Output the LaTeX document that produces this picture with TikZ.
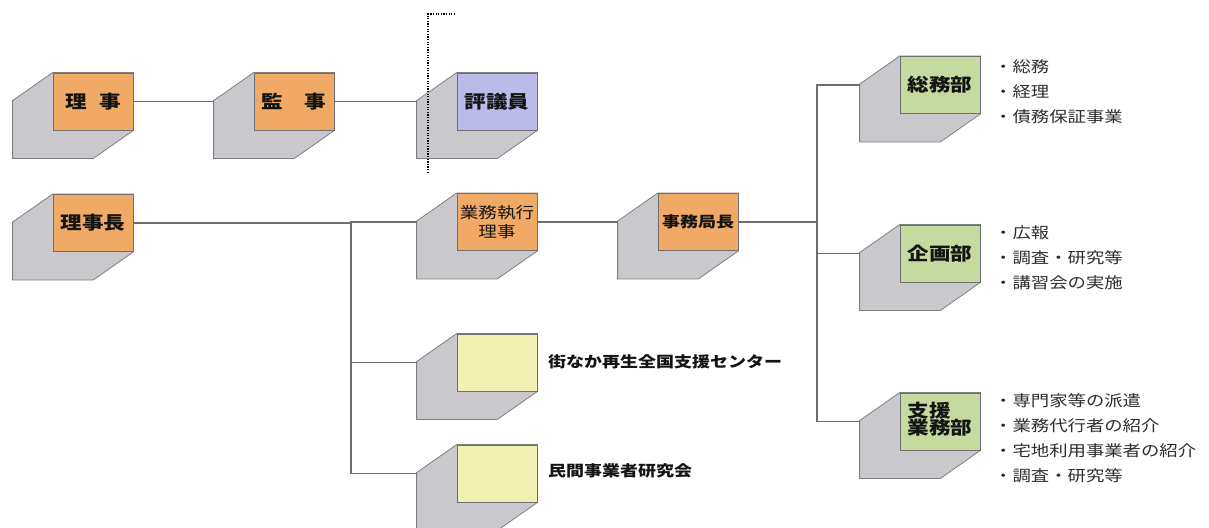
\documentclass[tikz,border=0pt]{standalone}
\usepackage{fontspec}
\setmainfont{Noto Sans CJK JP}[FakeStretch=1.2]
\usetikzlibrary{positioning}
\pgfdeclarelayer{background}
\pgfdeclarelayer{canvas}
\pgfsetlayers{canvas,background,main}
\definecolor{orangef}{HTML}{F0AA66}
\definecolor{purplef}{HTML}{BBBBEA}
\definecolor{greenf}{HTML}{C4DA9E}
\definecolor{yellowf}{HTML}{F2EFB2}
\definecolor{cubegray}{HTML}{C9C9CD}
\definecolor{cubeline}{HTML}{7F7F7F}
\definecolor{frontline}{HTML}{6F6F6F}
\definecolor{connline}{HTML}{6E6E6E}
\definecolor{txt}{HTML}{141414}
\definecolor{bul}{HTML}{2E2E2E}
\tikzset{
  front/.style={draw=frontline, line width=0.8pt, minimum width=80pt, minimum height=57pt,
    inner sep=1pt, align=center, font=\bfseries\fontsize{18}{19}\selectfont, text=txt},
  back/.style={fill=cubegray, draw=cubeline, line width=0.8pt},
  conn/.style={draw=connline, line width=1.1pt},
  bulletlist/.style={anchor=west, font=\fontsize{15.3}{25}\selectfont, align=left, text=bul, inner sep=0pt},
  side/.style={anchor=west, font=\bfseries\fontsize{15}{18}\selectfont, text=txt, inner sep=0pt},
  dotline/.style={draw=black, line width=1.3pt, dash pattern=on 1.3pt off 1.3pt},
}
\newcommand\mkcube[4]{%
  \node[front, fill=#3] (#1) at (#2) {#4};
  \begin{pgfonlayer}{background}
    \path[back] (#1.north west) -- ([shift={(-40,28)}]#1.north west)
      -- ([shift={(-40,28)}]#1.south west) -- ([shift={(-40,28)}]#1.south east)
      -- (#1.south east) -- (#1.north east) -- cycle;
  \end{pgfonlayer}
  \coordinate (#1-in) at ([xshift=-40pt]#1.west);
}
\begin{document}
\begin{tikzpicture}[x=1pt,y=-1pt]
\useasboundingbox (0,0) rectangle (1209,527);
\begin{pgfonlayer}{canvas}
\fill[white] (0,0) rectangle (1209,527);
\end{pgfonlayer}

\mkcube{rj}{93,101.5}{orangef}{理\hspace{0.7em}事}
\mkcube{kj}{294,101.5}{orangef}{監　事}
\mkcube{hg}{497,101.5}{purplef}{評議員}
\mkcube{rjc}{93,223}{orangef}{理事長}
\mkcube{gs}{497,222}{orangef}{\mdseries\fontsize{15.5}{19}\selectfont 業務執行\\\mdseries\fontsize{15.5}{19}\selectfont 理事}
\mkcube{jk}{698,222}{orangef}{\fontsize{15}{18}\selectfont 事務局長}
\mkcube{mn}{497,362.5}{yellowf}{}
\mkcube{mk}{497,473.5}{yellowf}{}
\mkcube{sm}{940,85}{greenf}{総務部}
\mkcube{kk}{940,253.5}{greenf}{企画部}
\mkcube{sg}{940,421.5}{greenf}{\begin{tabular}{@{}l@{}}\fontsize{18}{18}\selectfont 支援\\[-4pt]\fontsize{18}{18}\selectfont 業務部\end{tabular}}

% connectors
\draw[conn] (rj.east) -- (rj.east -| kj-in);
\draw[conn] (kj.east) -- (kj.east -| hg-in);
\coordinate (j1) at (351,223);
\draw[conn] (rjc.east) -- (j1) -- (j1 |- gs-in) -- (gs-in);
\draw[conn] (j1) |- (mk-in);
\draw[conn] (j1 |- mn-in) -- (mn-in);
\draw[conn] (gs.east) -- (jk-in);
\coordinate (j2) at (817,222);
\draw[conn] (jk.east) -- (j2);
\draw[conn] (sm-in) -| (j2) |- (sg-in);
\draw[conn] (j2 |- kk-in) -- (kk-in);

% dotted line
\coordinate (d0) at (455,14);
\coordinate (d1) at (428,14);
\coordinate (d2) at (428,172);
\draw[dotline] (d0) -- (d1) -- (d2);

% side labels
\node[side] (mnl) at (548,362) {街なか再生全国支援センター};
\node[side] (mkl) at (548,471) {民間事業者研究会};

% bullet lists
\node[bulletlist] (sml) at (994,92) {・総務\\・経理\\・債務保証事業};
\node[bulletlist] (kkl) at (994,257.5) {・広報\\・調査・研究等\\・講習会の実施};
\node[bulletlist] (sgl) at (994,438.5) {・専門家等の派遣\\・業務代行者の紹介\\・宅地利用事業者の紹介\\・調査・研究等};
\end{tikzpicture}
\end{document}
